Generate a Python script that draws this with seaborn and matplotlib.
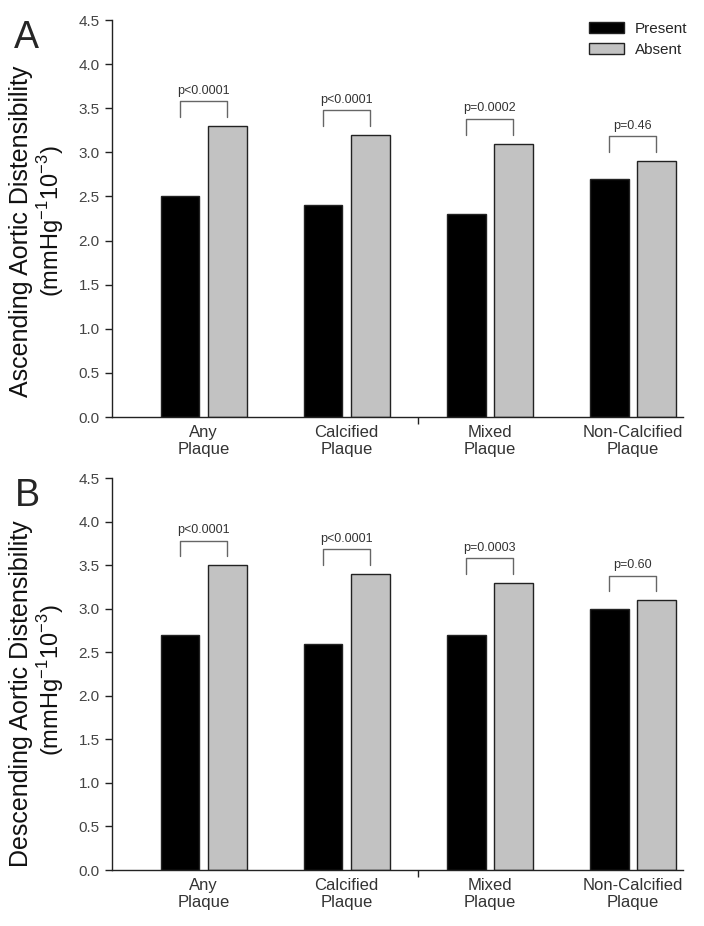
import numpy as np
import pandas as pd
import matplotlib
matplotlib.use('Agg')
import matplotlib.pyplot as plt
import seaborn as sns

## values
plaques = ['Any\nPlaque', 'Calcified\nPlaque', 'Mixed\nPlaque', 'Non-Calcified\nPlaque']
groups = ['Present', 'Absent']

asc_present = [2.5, 2.4, 2.3, 2.7]
asc_absent = [3.3, 3.2, 3.1, 2.9]
asc_p = ['p<0.0001', 'p<0.0001', 'p=0.0002', 'p=0.46']

desc_present = [2.7, 2.6, 2.7, 3.0]
desc_absent = [3.5, 3.4, 3.3, 3.1]
desc_p = ['p<0.0001', 'p<0.0001', 'p=0.0003', 'p=0.60']

yticks = [0.0, 0.5, 1.0, 1.5, 2.0, 2.5, 3.0, 3.5, 4.0, 4.5]

sns.set_style('ticks')
plt.rcParams['font.family'] = ['Liberation Sans', 'DejaVu Sans']
plt.rcParams['mathtext.fontset'] = 'custom'
plt.rcParams['mathtext.rm'] = 'Liberation Sans'

W, H = 704, 926
fig = plt.figure(figsize=(W / 100, H / 100), dpi=100)

def make_df(present, absent):
    return pd.DataFrame({
        'plaque': plaques * 2,
        'status': [groups[0]] * 4 + [groups[1]] * 4,
        'value': present + absent,
    })

def draw_panel(ax, present, absent, pvals, show_legend):
    df = make_df(present, absent)
    sns.barplot(data=df, x='plaque', y='value', hue='status', order=plaques,
                hue_order=groups, palette=['black', '#c2c2c2'], width=0.66,
                gap=0.18, edgecolor='#222222', linewidth=1, errorbar=None,
                legend=show_legend, ax=ax)
    ax.set_xlim(-0.64, 3.35)
    ax.set_ylim(0, 4.5)
    ax.set_yticks(yticks)
    ax.set_yticklabels(['%.1f' % t for t in yticks])
    ax.set_xlabel('')
    ax.set_ylabel('')
    ax.set_xticks(range(4))
    ax.set_xticklabels(plaques, fontsize=12, color='#333333', linespacing=1.1)
    ax.tick_params(axis='x', which='major', length=0, pad=6)
    ax.set_xticks([1.5], minor=True)
    ax.tick_params(axis='x', which='minor', length=5, width=1, color='#222222', direction='out')
    ax.tick_params(axis='y', length=5, width=1, color='#222222', labelsize=11,
                   labelcolor='#444444', pad=4)
    for s in ['top', 'right']:
        ax.spines[s].set_visible(False)
    for s in ['left', 'bottom']:
        ax.spines[s].set_color('#222222')
        ax.spines[s].set_linewidth(1)

    ## significance brackets
    for i, p in enumerate(pvals):
        top = max(present[i], absent[i])
        x0, x1 = i - 0.164, i + 0.164
        y0, y1 = top + 0.1, top + 0.28
        ax.plot([x0, x0, x1, x1], [y0, y1, y1, y0], color='#666666', lw=1)
        ax.text(i, y1 + 0.05, p, ha='center', va='bottom', fontsize=9, color='#333333')

    if show_legend:
        h, l = ax.get_legend_handles_labels()
        ax.legend(h, l, loc='upper left', bbox_to_anchor=(589 / W, 1 - 22 / H),
                  bbox_transform=fig.transFigure, frameon=False, fontsize=11,
                  handlelength=2.3, handleheight=0.75, handletextpad=0.7,
                  labelspacing=0.45, borderpad=0, borderaxespad=0)

axA = fig.add_axes([112 / W, 1 - 417 / H, (683 - 112) / W, (417 - 20) / H])
axB = fig.add_axes([112 / W, 1 - 870 / H, (683 - 112) / W, (870 - 478) / H])

draw_panel(axA, asc_present, asc_absent, asc_p, True)
draw_panel(axB, desc_present, desc_absent, desc_p, False)

## y labels, two lines each
unit = r'(mmHg$^{\mathregular{-1}}$10$^{\mathregular{-3}}$)'
fig.text(21 / W, 1 - 231 / H, 'Ascending Aortic Distensibility', rotation=90,
         ha='center', va='center', fontsize=18, color='#111111')
fig.text(51 / W, 1 - 221 / H, unit, rotation=90, ha='center', va='center',
         fontsize=17, color='#111111')
fig.text(21 / W, 1 - 694 / H, 'Descending Aortic Distensibility', rotation=90,
         ha='center', va='center', fontsize=18, color='#111111')
fig.text(51 / W, 1 - 680 / H, unit, rotation=90, ha='center', va='center',
         fontsize=17, color='#111111')

## panel letters
fig.text(14 / W, 1 - 20 / H, 'A', fontsize=27, va='top', ha='left')
fig.text(15 / W, 1 - 478 / H, 'B', fontsize=27, va='top', ha='left')

fig.savefig('out.png', dpi=100)
